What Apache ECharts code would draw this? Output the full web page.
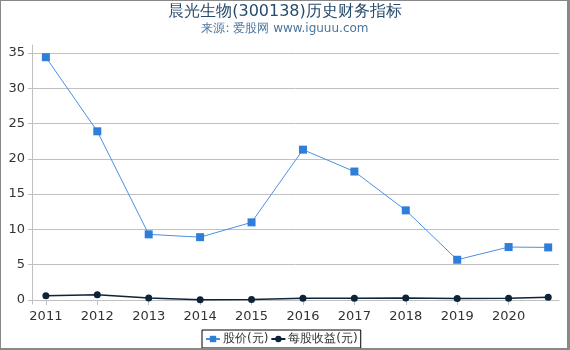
<!DOCTYPE html>
<html>
<head>
    <meta charset="utf-8">
    <title>chart</title>
    <script src="https://cdn.jsdelivr.net/npm/echarts@6/dist/echarts.min.js"></script>
    <style>
        body { margin: 0; }
        #wrap { position: relative; width: 570px; height: 350px; }
        #main { width: 570px; height: 350px; }
        #frame {
            position: absolute; left: 0; top: 0;
            width: 570px; height: 350px;
            box-sizing: border-box;
            border-left: 1px solid #888;
            border-right: 3px solid #888;
            border-top: 1px solid #888;
            border-bottom: 2px solid #888;
            pointer-events: none;
        }
    </style>
</head>
<body>
<div id="wrap">
    <div id="main"></div>
    <div id="frame"></div>
</div>
<script>
    // 年份位置 (最后一点为最新数据)
    var years = [2011, 2012, 2013, 2014, 2015, 2016, 2017, 2018, 2019, 2020, 2020.77];
    var yearLabels = [2011, 2012, 2013, 2014, 2015, 2016, 2017, 2018, 2019, 2020];
    var price = [34.4, 23.9, 9.3, 8.9, 11.0, 21.3, 18.2, 12.7, 5.7, 7.5, 7.45];
    var eps = [0.6, 0.75, 0.28, 0.03, 0.06, 0.25, 0.25, 0.28, 0.2, 0.25, 0.38];
    var yTicks = [0, 5, 10, 15, 20, 25, 30, 35];

    function pairs(xs, ys) {
        var out = [];
        for (var i = 0; i < xs.length; i++) out.push([xs[i], ys[i]]);
        return out;
    }

    var chart = echarts.init(document.getElementById('main'));
    chart.setOption({
        animation: false,
        textStyle: { fontFamily: 'DejaVu Sans' },
        title: {
            text: '晨光生物(300138)历史财务指标',
            subtext: '来源: 爱股网 www.iguuu.com',
            left: 'center',
            top: -1,
            itemGap: 3,
            textStyle: { color: '#274b6d', fontSize: 16, fontWeight: 'normal' },
            subtextStyle: { color: '#4d759e', fontSize: 12 }
        },
        legend: {
            bottom: 2,
            left: 202,
            borderColor: '#000',
            borderWidth: 1,
            borderRadius: 0,
            padding: [3, 3],
            itemGap: 2,
            itemWidth: 14,
            itemHeight: 8,
            textStyle: { color: '#333', fontSize: 12, padding: [0, 0, 0, -2] },
            data: ['股价(元)', '每股收益(元)']
        },
        grid: { left: 32, right: 11, top: 45, bottom: 46 },
        xAxis: {
            type: 'value',
            min: 2010.73,
            max: 2020.98,
            axisLine: { show: true, lineStyle: { color: '#c0c0c0' } },
            axisTick: { show: true, customValues: yearLabels, length: 5, lineStyle: { color: '#c0c0c0' } },
            axisLabel: {
                customValues: yearLabels, color: '#333', fontSize: 13, margin: 6,
                formatter: function (v) { return String(v); }
            },
            splitLine: { show: false }
        },
        yAxis: {
            type: 'value',
            min: -0.57,
            max: 36.13,
            axisLine: { show: true, lineStyle: { color: '#c0c0c0' } },
            axisTick: { show: true, customValues: yTicks, length: 4, lineStyle: { color: '#c0c0c0' } },
            axisLabel: { customValues: yTicks, color: '#333', fontSize: 13, margin: 7 },
            splitLine: { show: true, lineStyle: { color: '#c0c0c0' } }
        },
        series: [
            {
                name: '股价(元)',
                type: 'line',
                data: pairs(years, price),
                symbol: 'rect',
                symbolSize: 8,
                color: '#2f7ed8',
                lineStyle: { width: 1, color: '#4a90e2' }
            },
            {
                name: '每股收益(元)',
                type: 'line',
                data: pairs(years, eps),
                symbol: 'circle',
                symbolSize: 7,
                color: '#0d233a',
                lineStyle: { width: 1.5, color: '#0d233a' }
            }
        ]
    });
</script>
</body>
</html>
